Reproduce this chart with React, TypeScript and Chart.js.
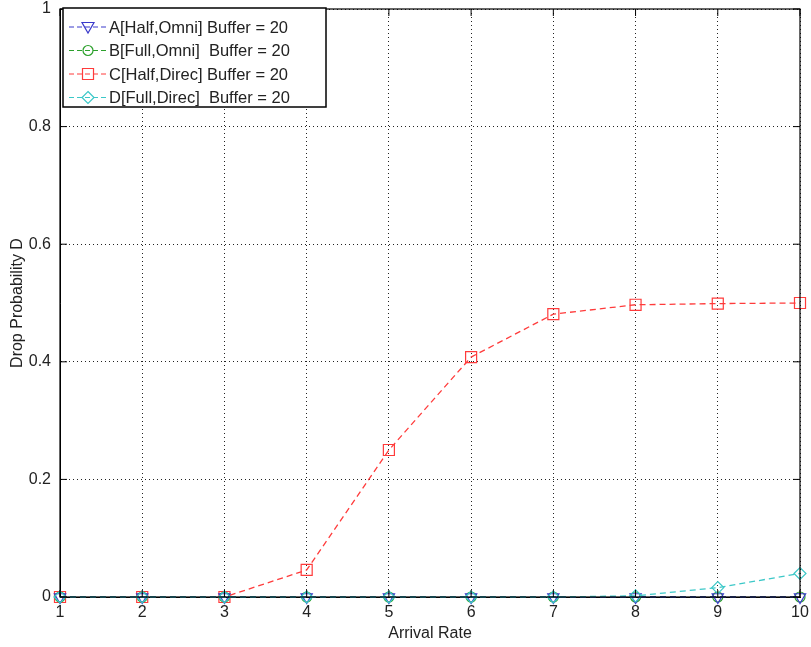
import React, { useEffect, useRef } from "react";
import { Chart, registerables } from "chart.js";

Chart.register(...registerables);

const arrivalRates = [1, 2, 3, 4, 5, 6, 7, 8, 9, 10];
const seriesA = [0, 0, 0, 0, 0, 0, 0, 0, 0, 0];
const seriesB = [0, 0, 0, 0, 0, 0, 0, 0, 0, 0];
const seriesC = [0, 0, 0, 0.046, 0.25, 0.408, 0.481, 0.497, 0.499, 0.5];
const seriesD = [0, 0, 0, 0, 0, 0, 0, 0.002, 0.016, 0.04];
const labels = [
  "A[Half,Omni] Buffer = 20",
  "B[Full,Omni]  Buffer = 20",
  "C[Half,Direc] Buffer = 20",
  "D[Full,Direc]  Buffer = 20",
];
const xTicks = [1, 2, 3, 4, 5, 6, 7, 8, 9, 10];
const yTicks = [0, 0.2, 0.4, 0.6, 0.8, 1];

const FONT = "'Liberation Sans', Arial, sans-serif";
const colors = ["#3a3acb", "#2ca02c", "#ff3b3b", "#3cc8c8"];
const markers = ["tri", "circle", "rect", "diamond"];

function drawMarker(ctx: CanvasRenderingContext2D, kind: string, x: number, y: number) {
  ctx.beginPath();
  if (kind === "tri") {
    ctx.moveTo(x - 6, y - 4.5);
    ctx.lineTo(x + 6, y - 4.5);
    ctx.lineTo(x, y + 6);
    ctx.closePath();
  } else if (kind === "circle") {
    ctx.arc(x, y, 5, 0, Math.PI * 2);
  } else if (kind === "rect") {
    ctx.rect(x - 5.5, y - 5.5, 11, 11);
  } else {
    ctx.moveTo(x, y - 6);
    ctx.lineTo(x + 6, y);
    ctx.lineTo(x, y + 6);
    ctx.lineTo(x - 6, y);
    ctx.closePath();
  }
  ctx.stroke();
}

const framePlugin = {
  id: "frame",
  afterDraw(chart: any) {
    const { ctx, chartArea: a, scales } = chart;
    ctx.save();
    ctx.strokeStyle = "#000";
    ctx.lineWidth = 1.2;
    ctx.setLineDash([]);
    ctx.strokeRect(a.left, a.top, a.right - a.left, a.bottom - a.top);
    ctx.lineWidth = 1;
    ctx.beginPath();
    xTicks.forEach((v) => {
      const px = scales.x.getPixelForValue(v);
      ctx.moveTo(px, a.bottom);
      ctx.lineTo(px, a.bottom - 7);
      ctx.moveTo(px, a.top);
      ctx.lineTo(px, a.top + 7);
    });
    yTicks.forEach((v) => {
      const py = scales.y.getPixelForValue(v);
      ctx.moveTo(a.left, py);
      ctx.lineTo(a.left + 7, py);
      ctx.moveTo(a.right, py);
      ctx.lineTo(a.right - 7, py);
    });
    ctx.stroke();

    // legend
    const lx = a.left + 3;
    const ly = a.top - 1;
    const lw = 263;
    const lh = 99;
    ctx.fillStyle = "#fff";
    ctx.fillRect(lx, ly, lw, lh);
    ctx.strokeStyle = "#000";
    ctx.lineWidth = 1.5;
    ctx.strokeRect(lx, ly, lw, lh);
    ctx.font = `16.5px ${FONT}`;
    ctx.textBaseline = "middle";
    ctx.textAlign = "left";
    labels.forEach((t, i) => {
      const y = ly + 19 + i * 23.5;
      ctx.strokeStyle = colors[i];
      ctx.lineWidth = 1;
      ctx.setLineDash([5, 3]);
      ctx.beginPath();
      ctx.moveTo(lx + 6, y);
      ctx.lineTo(lx + 44, y);
      ctx.stroke();
      ctx.setLineDash([]);
      ctx.lineWidth = 1.2;
      drawMarker(ctx, markers[i], lx + 25, y);
      ctx.fillStyle = "#222";
      ctx.fillText(t, lx + 46, y + 1);
    });
    ctx.restore();
  },
};

const fmt = (v: any) => String(+Number(v).toFixed(2));

export default function App() {
  const ref = useRef<HTMLCanvasElement>(null);
  useEffect(() => {
    document.body.style.margin = "0";
    const mk = (label: string, data: number[], i: number, style: any, radius: number, order: number, rotation = 0) => ({
      label,
      data: arrivalRates.map((x, j) => ({ x, y: data[j] })),
      borderColor: colors[i],
      backgroundColor: "rgba(0,0,0,0)",
      pointBackgroundColor: "rgba(0,0,0,0)",
      pointBorderColor: colors[i],
      pointBorderWidth: 1.2,
      pointStyle: style,
      pointRadius: radius,
      pointRotation: rotation,
      borderWidth: 1.3,
      borderDash: [6, 4],
      tension: 0,
      clip: false,
      order,
    });
    const zeroPad = (s: any) => {
      s.paddingTop = 0;
      s.paddingBottom = 0;
      s.paddingLeft = 0;
      s.paddingRight = 0;
    };
    const chart = new Chart(ref.current!, {
      type: "line",
      data: {
        datasets: [
          mk(labels[0], seriesA, 0, "triangle", 6.5, 1, 180),
          mk(labels[1], seriesB, 1, "circle", 5, 2),
          mk(labels[2], seriesC, 2, "rect", 7.8, 3),
          mk(labels[3], seriesD, 3, "rectRot", 6, 0),
        ] as any,
      },
      options: {
        animation: false,
        responsive: false,
        events: [],
        layout: { padding: { top: 9, right: 11, left: 0, bottom: 0 } },
        plugins: { legend: { display: false }, tooltip: { enabled: false } },
        scales: {
          x: {
            type: "linear",
            min: 1,
            max: 10,
            afterFit: (s: any) => {
              s.height = 50;
              zeroPad(s);
            },
            afterBuildTicks: (s: any) => {
              s.ticks = xTicks.map((v) => ({ value: v }));
            },
            ticks: { font: { size: 16, family: FONT }, color: "#222", padding: 6, maxRotation: 0, callback: fmt },
            grid: { color: "#222", lineWidth: 1, drawTicks: false },
            border: { display: true, color: "#000", dash: [1, 3] },
            title: { display: true, text: "Arrival Rate", font: { size: 16, family: FONT }, color: "#222", padding: { top: 2, bottom: 4 } },
          },
          y: {
            type: "linear",
            min: 0,
            max: 1,
            afterFit: (s: any) => {
              s.width = 60;
              zeroPad(s);
            },
            afterBuildTicks: (s: any) => {
              s.ticks = yTicks.map((v) => ({ value: v }));
            },
            ticks: { font: { size: 16, family: FONT }, color: "#222", padding: 9, callback: fmt },
            grid: { color: "#222", lineWidth: 1, drawTicks: false },
            border: { display: true, color: "#000", dash: [1, 3] },
            title: { display: true, text: "Drop Probability D", font: { size: 16, family: FONT }, color: "#222", padding: { top: 8, bottom: 4 } },
          },
        },
      },
      plugins: [framePlugin],
    });
    return () => chart.destroy();
  }, []);
  return (
    <div style={{ width: 811, height: 647 }}>
      <canvas ref={ref} width={811} height={647} style={{ display: "block" }} />
    </div>
  );
}
